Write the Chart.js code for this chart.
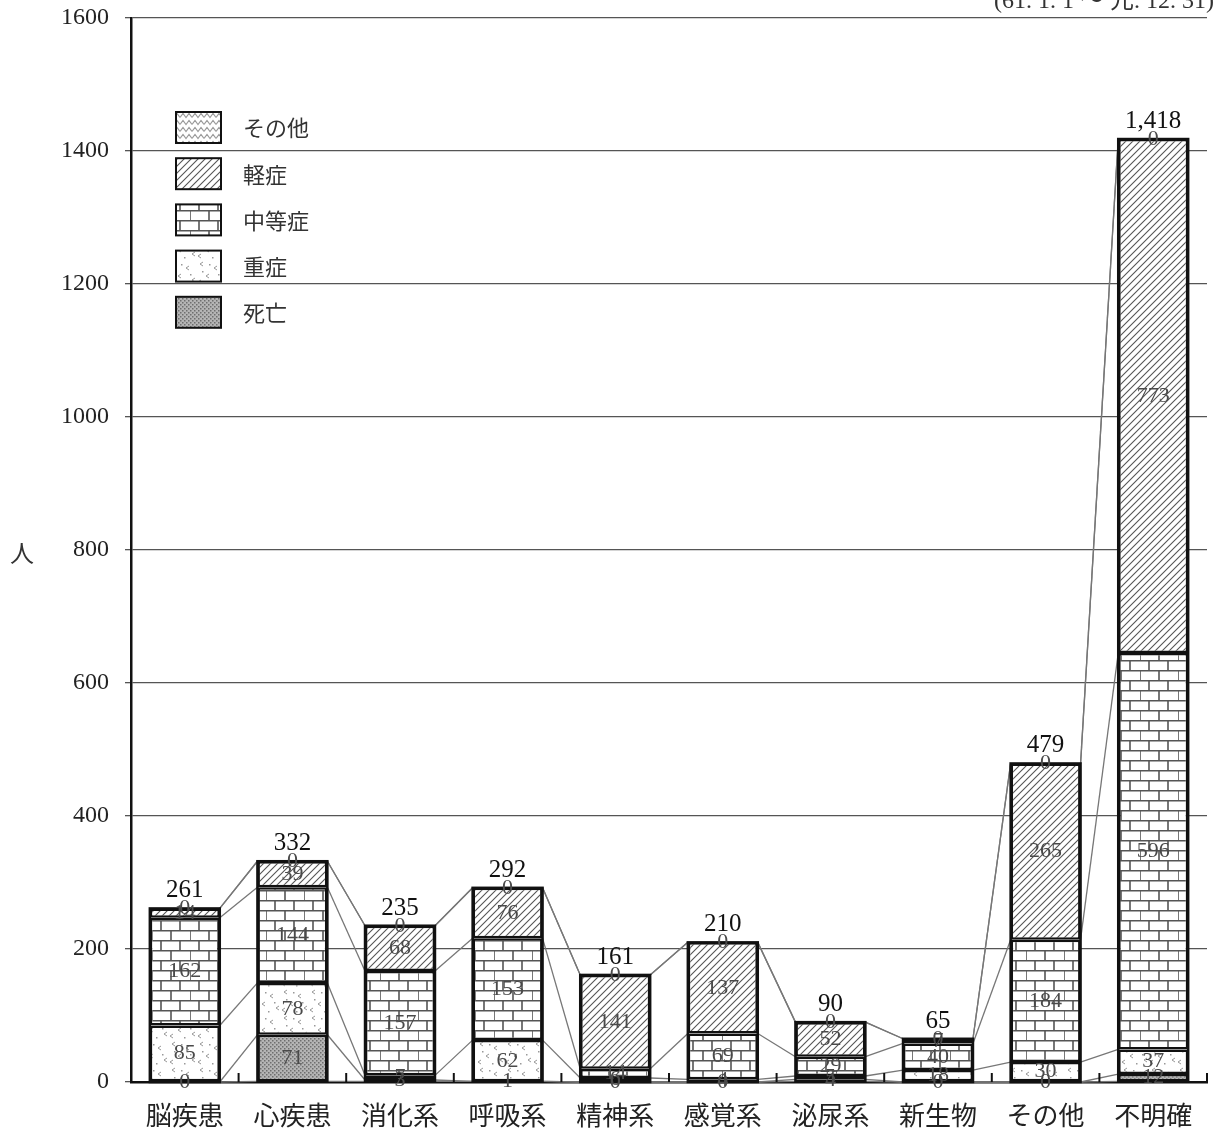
<!DOCTYPE html>
<html>
<head>
<meta charset="utf-8">
<title>傷病程度別搬送人員</title>
<script src="https://cdn.jsdelivr.net/npm/chart.js@4.4.1/dist/chart.umd.min.js"></script>
<style>
    body { margin: 0; background: #fff; }
    #chart { display: block; }
</style>
</head>
<body>
<canvas id="chart" width="1217" height="1138"></canvas>
<script>
var categories = ['脳疾患', '心疾患', '消化系', '呼吸系', '精神系', '感覚系', '泌尿系', '新生物', 'その他', '不明確'];
var shibou   = [0, 71, 3, 1, 0, 0, 4, 0, 0, 12];
var jusho    = [85, 78, 7, 62, 6, 4, 5, 18, 30, 37];
var chutosho = [162, 144, 157, 153, 14, 69, 29, 40, 184, 596];
var keisho   = [14, 39, 68, 76, 141, 137, 52, 7, 265, 773];
var sonota   = [0, 0, 0, 0, 0, 0, 0, 0, 0, 0];
var yTicks = [0, 200, 400, 600, 800, 1000, 1200, 1400, 1600];
var periodText = '(61. 1. 1 ～ 元. 12. 31)';

var serif = "'Liberation Serif', 'DejaVu Serif', 'Noto Sans CJK JP', serif";
var jp = "'Noto Sans CJK JP', sans-serif";

function makeTile(w, h, draw)
{
    var c = document.createElement('canvas');
    c.width = w;
    c.height = h;
    var g = c.getContext('2d');
    g.fillStyle = '#fff';
    g.fillRect(0, 0, w, h);
    draw(g);
    return g.createPattern(c, 'repeat');
}

var patSonota = makeTile(12, 7, function (g) {
    g.strokeStyle = '#9a9a9a';
    g.lineWidth = 1.2;
    g.beginPath();
    g.moveTo(0, 5.5); g.lineTo(3, 1.5); g.lineTo(6, 5.5); g.lineTo(9, 1.5); g.lineTo(12, 5.5);
    g.stroke();
});

var patKeisho = makeTile(7, 7, function (g) {
    g.strokeStyle = '#555';
    g.lineWidth = 1.1;
    g.beginPath();
    g.moveTo(-1, 8); g.lineTo(8, -1);
    g.moveTo(-1, 1); g.lineTo(1, -1);
    g.moveTo(6, 8); g.lineTo(8, 6);
    g.stroke();
});

var patChuto = makeTile(38, 20, function (g) {
    g.strokeStyle = '#555';
    g.lineWidth = 1.6;
    g.beginPath();
    g.moveTo(0, 0.8); g.lineTo(38, 0.8);
    g.moveTo(0, 10.8); g.lineTo(38, 10.8);
    g.moveTo(9, 0); g.lineTo(9, 10.8);
    g.moveTo(28, 0); g.lineTo(28, 10.8);
    g.moveTo(0, 10.8); g.lineTo(0, 20);
    g.moveTo(19, 10.8); g.lineTo(19, 20);
    g.stroke();
});

var patJusho = makeTile(28, 26, function (g) {
    g.strokeStyle = '#999';
    g.fillStyle = '#999';
    g.lineWidth = 1;
    var marks = [[4, 4], [18, 8], [10, 16], [24, 20], [2, 22]];
    marks.forEach(function (m) {
        g.beginPath();
        g.moveTo(m[0] + 3, m[1] - 2); g.lineTo(m[0], m[1]); g.lineTo(m[0] + 3, m[1] + 2);
        g.stroke();
    });
    [[13, 4], [22, 14], [6, 11], [16, 23]].forEach(function (d) {
        g.fillRect(d[0], d[1], 1.5, 1.5);
    });
});

var patShibou = makeTile(4, 4, function (g) {
    g.fillStyle = '#b4b4b4';
    g.fillRect(0, 0, 4, 4);
    g.fillStyle = '#6e6e6e';
    g.fillRect(0, 0, 1.5, 1.5);
    g.fillRect(2, 2, 1.5, 1.5);
});

function serie(label, data, pattern)
{
    return {
        label: label,
        data: data,
        backgroundColor: pattern,
        borderColor: '#111',
        // pas de trait pour les segments vides
        borderWidth: function (c) { return c.raw === 0 ? 0 : 2.5; },
        borderSkipped: false,
        barPercentage: 0.65,
        categoryPercentage: 1
    };
}

var datasets = [
    serie('死亡', shibou, patShibou),
    serie('重症', jusho, patJusho),
    serie('中等症', chutosho, patChuto),
    serie('軽症', keisho, patKeisho),
    serie('その他', sonota, patSonota)
];

// lignes entre les barres, valeurs, totaux, legende
var decorPlugin = {
    id: 'decor',
    beforeDatasetsDraw: function (chart) {
        var ctx = chart.ctx;
        var metas = chart.data.datasets.map(function (d, k) { return chart.getDatasetMeta(k); });
        var n = categories.length;
        ctx.save();
        ctx.strokeStyle = '#777';
        ctx.lineWidth = 1.3;
        for (var lvl = 0; lvl <= metas.length; lvl++) {
            for (var i = 0; i < n - 1; i++) {
                var a = lvl === 0 ? metas[0].data[i] : metas[lvl - 1].data[i];
                var b = lvl === 0 ? metas[0].data[i + 1] : metas[lvl - 1].data[i + 1];
                var ya = lvl === 0 ? a.base : a.y;
                var yb = lvl === 0 ? b.base : b.y;
                ctx.beginPath();
                ctx.moveTo(a.x + a.width / 2, ya);
                ctx.lineTo(b.x - b.width / 2, yb);
                ctx.stroke();
            }
        }
        ctx.restore();
    },
    afterDatasetsDraw: function (chart) {
        var ctx = chart.ctx;
        var area = chart.chartArea;
        var xs = chart.scales.x;
        ctx.save();

        // petites graduations entre les categories
        ctx.strokeStyle = '#111';
        ctx.lineWidth = 2;
        for (var j = 1; j <= categories.length; j++) {
            var bx = xs.getPixelForValue(j - 0.5);
            ctx.beginPath();
            ctx.moveTo(bx, area.bottom);
            ctx.lineTo(bx, area.bottom - 9);
            ctx.stroke();
        }

        // contour exterieur de chaque pile
        var last = chart.getDatasetMeta(chart.data.datasets.length - 1);
        var first = chart.getDatasetMeta(0);
        ctx.lineWidth = 2.5;
        last.data.forEach(function (bar, i) {
            var b0 = first.data[i];
            ctx.strokeRect(bar.x - bar.width / 2, bar.y, bar.width, b0.base - bar.y);
        });

        // valeurs dans les segments
        ctx.font = '22px ' + serif;
        ctx.fillStyle = '#4a4a4a';
        ctx.textAlign = 'center';
        ctx.textBaseline = 'middle';
        chart.data.datasets.forEach(function (ds, k) {
            var meta = chart.getDatasetMeta(k);
            meta.data.forEach(function (bar, i) {
                ctx.fillText(String(ds.data[i]), bar.x, (bar.y + bar.base) / 2);
            });
        });

        // totaux
        ctx.font = '25px ' + serif;
        ctx.fillStyle = '#111';
        ctx.textBaseline = 'alphabetic';
        last.data.forEach(function (bar, i) {
            var total = 0;
            chart.data.datasets.forEach(function (ds) { total += ds.data[i]; });
            ctx.fillText(total.toLocaleString('en-US'), bar.x, bar.y - 11);
        });

        // legende
        var order = chart.data.datasets.slice().reverse();
        order.forEach(function (ds, i) {
            var cy = 127 + i * 46.2;
            ctx.fillStyle = ds.backgroundColor;
            ctx.fillRect(176, cy - 15, 45, 31);
            ctx.strokeStyle = '#111';
            ctx.lineWidth = 2;
            ctx.strokeRect(176, cy - 15, 45, 31);
            ctx.fillStyle = '#333';
            ctx.font = '22px ' + jp;
            ctx.textAlign = 'left';
            ctx.textBaseline = 'middle';
            ctx.fillText(ds.label, 243, cy + 1);
        });

        // unite et periode
        ctx.fillStyle = '#333';
        ctx.font = '24px ' + jp;
        ctx.textAlign = 'center';
        ctx.fillText('人', 22, 553);
        ctx.font = '24px ' + serif;
        ctx.textAlign = 'right';
        ctx.textBaseline = 'alphabetic';
        ctx.fillText(periodText, 1214, 8);

        ctx.restore();
    }
};

new Chart(document.getElementById('chart'), {
    type: 'bar',
    data: {
        labels: categories,
        datasets: datasets
    },
    options: {
        responsive: false,
        devicePixelRatio: 1,
        animation: false,
        layout: {
            padding: { top: 18, right: 10, left: 0, bottom: 0 }
        },
        plugins: {
            legend: { display: false },
            tooltip: { enabled: false }
        },
        scales: {
            x: {
                stacked: true,
                grid: { display: false },
                border: { display: true, color: '#111', width: 2.5 },
                ticks: {
                    color: '#222',
                    padding: 10,
                    font: { family: jp, size: 26 }
                },
                afterFit: function (scale) {
                    scale.height = 56;
                    scale.paddingLeft = 0;
                    scale.paddingRight = 0;
                }
            },
            y: {
                stacked: true,
                min: 0,
                max: 1600,
                afterBuildTicks: function (scale) {
                    scale.ticks = yTicks.map(function (v) { return { value: v }; });
                },
                grid: {
                    color: '#555',
                    lineWidth: 1.3,
                    tickLength: 6
                },
                border: { display: true, color: '#111', width: 2.5 },
                ticks: {
                    color: '#222',
                    padding: 16,
                    font: { family: serif, size: 24 },
                    callback: function (v) { return String(v); }
                },
                afterFit: function (scale) {
                    scale.width = 131;
                    scale.paddingTop = 0;
                    scale.paddingBottom = 0;
                }
            }
        }
    },
    plugins: [decorPlugin]
});
</script>
</body>
</html>
